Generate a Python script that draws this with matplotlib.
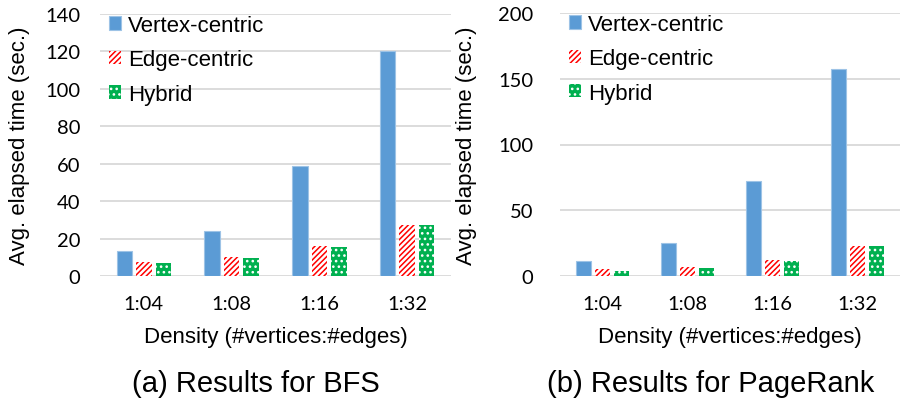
import numpy as np
import matplotlib
matplotlib.use("Agg")
import matplotlib.pyplot as plt

plt.rcParams['font.family'] = ['Liberation Sans', 'DejaVu Sans']
plt.rcParams['hatch.linewidth'] = 1.1

densities = ['1:04', '1:08', '1:16', '1:32']
series = ['Vertex-centric', 'Edge-centric', 'Hybrid']

# BFS (sec.)
bfs_vertex = [13.2, 24.0, 58.6, 120.0]
bfs_edge = [7.5, 10.0, 16.0, 27.5]
bfs_hybrid = [7.1, 9.8, 15.7, 27.0]

# PageRank (sec.)
pr_vertex = [11.7, 25.4, 72.6, 157.4]
pr_edge = [5.6, 6.8, 12.4, 22.9]
pr_hybrid = [3.8, 6.1, 11.7, 23.0]

blue = '#5B9BD5'
red = '#FF0000'
green = '#00B050'
grid_col = '#D9D9D9'

W, H = 901, 410
fig = plt.figure(figsize=(W / 100, H / 100), dpi=100)


def px_axes(x0, y0, x1, y1):
    return fig.add_axes([x0 / W, 1 - y1 / H, (x1 - x0) / W, (y1 - y0) / H])


def draw(ax, vals, ymax, ystep):
    x = np.arange(len(densities))
    bw = 0.175
    off = 0.222
    ax.bar(x - off, vals[0], bw, color=blue, edgecolor='#9DC3E6', linewidth=0.8,
           label=series[0], zorder=3)
    ax.bar(x, vals[1], bw, color='white', edgecolor=red, hatch='//////',
           linewidth=0, label=series[1], zorder=3)
    ax.bar(x + off, vals[2], bw, color=green, edgecolor='white', hatch='...',
           linewidth=0, label=series[2], zorder=3)
    ax.set_xlim(-0.5, len(densities) - 0.5)
    ax.set_ylim(0, ymax)
    ax.set_yticks(np.arange(0, ymax + 1, ystep))
    ax.set_xticks(x)
    ax.set_xticklabels(densities)
    for s in ax.spines.values():
        s.set_visible(False)
    ax.yaxis.grid(True, color=grid_col, linewidth=1.3, zorder=0)
    ax.tick_params(length=0, labelsize=14.5)
    ax.tick_params(axis='x', pad=14)
    for lbl in ax.get_xticklabels() + ax.get_yticklabels():
        lbl.set_fontfamily(['Lato', 'DejaVu Sans'])
    ax.set_xlabel('Density (#vertices:#edges)', fontsize=16, labelpad=10)
    ax.set_ylabel('Avg. elapsed time (sec.)', fontsize=16)
    ax.legend(loc='upper left', frameon=False, fontsize=16, handlelength=0.55,
              handleheight=0.55, handletextpad=0.3, labelspacing=0.6,
              borderaxespad=0.0, bbox_to_anchor=(0.0, 1.03))


ax1 = px_axes(100, 15, 451, 277)
draw(ax1, [bfs_vertex, bfs_edge, bfs_hybrid], 140, 20)
ax1.tick_params(axis='y', pad=14)
ax1.yaxis.set_label_coords(-0.2, 0.5)

ax2 = px_axes(560, 14, 900, 277)
draw(ax2, [pr_vertex, pr_edge, pr_hybrid], 200, 50)
ax2.tick_params(axis='y', pad=19)
ax2.yaxis.set_label_coords(-0.245, 0.5)

fig.text(256 / W, 1 - 384 / H, '(a) Results for BFS', fontsize=21,
         ha='center', va='center')
fig.text(711 / W, 1 - 384 / H, '(b) Results for PageRank', fontsize=21,
         ha='center', va='center')

fig.savefig('out.png', dpi=100)
